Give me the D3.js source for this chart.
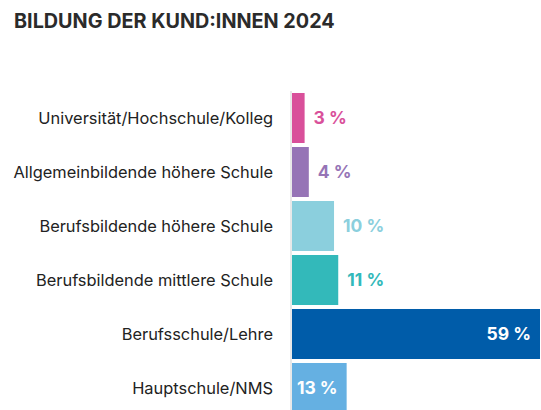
<!DOCTYPE html>
<html>
<head>
<meta charset="utf-8">
<script src="https://cdn.jsdelivr.net/npm/d3@7"></script>
<style>
  body { margin: 0; background: #fff; }
  svg { display: block; }
</style>
</head>
<body>
<div class="bar-chart"></div>
<script>
const categories = [
  "Universität/Hochschule/Kolleg",
  "Allgemeinbildende höhere Schule",
  "Berufsbildende höhere Schule",
  "Berufsbildende mittlere Schule",
  "Berufsschule/Lehre",
  "Hauptschule/NMS"
];
const values = [3, 4, 10, 11, 59, 13];
const colors = ["#d9509a", "#9674b6", "#8bcfdd", "#33b9ba", "#005ca9", "#65b0e2"];

const width = 541, height = 410;

const svg = d3.select(".bar-chart")
  .append("svg")
  .attr("width", width)
  .attr("height", height);

svg.append("text")
  .attr("x", 14)
  .attr("y", 28)
  .attr("font-family", "Inter, sans-serif")
  .attr("font-weight", 700)
  .attr("font-size", 19.8)
  .attr("fill", "#2b2b2b")
  .text("BILDUNG DER KUND:INNEN 2024");

const yScale = d3.scaleBand()
  .domain(categories)
  .range([91, 415])
  .paddingInner(0.074)
  .paddingOuter(0.037);

const xScale = d3.scaleLinear()
  .domain([0, 59])
  .range([292, 540]);

const rows = categories.map((c, i) => ({ cat: c, value: values[i], color: colors[i] }));

// light vertical baseline
svg.append("line")
  .attr("x1", 291).attr("x2", 291)
  .attr("y1", 91).attr("y2", height)
  .attr("stroke", "#e2e2e2")
  .attr("stroke-width", 1.5);

svg.selectAll(".bar")
  .data(rows)
  .enter()
  .append("rect")
  .attr("class", "bar")
  .attr("x", xScale(0))
  .attr("y", d => yScale(d.cat))
  .attr("width", d => xScale(d.value) - xScale(0))
  .attr("height", yScale.bandwidth())
  .attr("fill", d => d.color);

// category labels
svg.selectAll(".cat")
  .data(rows)
  .enter()
  .append("text")
  .attr("class", "cat")
  .attr("x", 273)
  .attr("y", d => yScale(d.cat) + yScale.bandwidth() / 2)
  .attr("dy", "0.35em")
  .attr("text-anchor", "end")
  .attr("font-family", "Inter, sans-serif")
  .attr("font-size", 16.4)
  .attr("fill", "#222")
  .text(d => d.cat);

// value labels, inside for the wide bars
const inside = d => d.value > 12;
svg.selectAll(".val")
  .data(rows)
  .enter()
  .append("text")
  .attr("class", "val")
  .attr("x", d => inside(d) ? xScale(d.value) - 9 : xScale(d.value) + 9)
  .attr("y", d => yScale(d.cat) + yScale.bandwidth() / 2)
  .attr("dy", "0.36em")
  .attr("text-anchor", d => inside(d) ? "end" : "start")
  .attr("font-family", "Inter, sans-serif")
  .attr("font-weight", 700)
  .attr("font-size", 17.5)
  .attr("fill", d => inside(d) ? "#fff" : d.color)
  .text(d => d.value + " %");
</script>
</body>
</html>
